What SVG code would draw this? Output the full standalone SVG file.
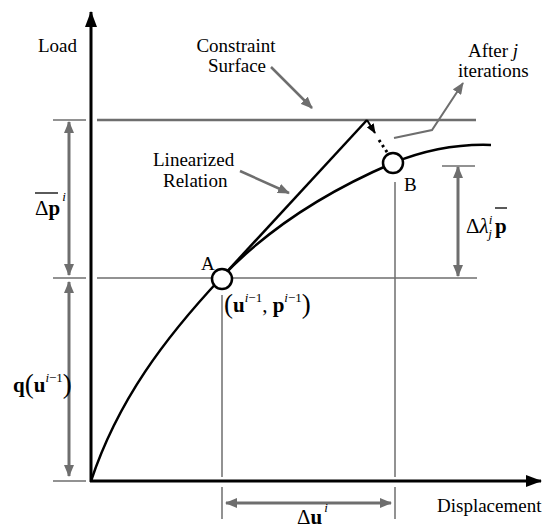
<svg xmlns="http://www.w3.org/2000/svg" width="549" height="529" viewBox="0 0 549 529">
<defs>
<marker id="ga" viewBox="0 0 12 10" refX="11" refY="5" markerWidth="12" markerHeight="10" markerUnits="userSpaceOnUse" orient="auto-start-reverse"><path d="M0,0 L12,5 L0,10 Z" fill="#6e6e6e"/></marker>
<marker id="ba" viewBox="0 0 16 12" refX="15" refY="6" markerWidth="16" markerHeight="12" markerUnits="userSpaceOnUse" orient="auto"><path d="M0,0 L16,6 L0,12 Z" fill="#000"/></marker>
<marker id="bs" viewBox="0 0 10 8" refX="9" refY="4" markerWidth="10" markerHeight="8" markerUnits="userSpaceOnUse" orient="auto"><path d="M0,0 L10,4 L0,8 Z" fill="#000"/></marker>
</defs>
<style>
text{font-family:"Liberation Serif","DejaVu Serif","Times New Roman",serif;fill:#000}
.t{font-size:19px}
.m{font-size:21px}
.b{font-weight:bold}
.i{font-style:italic}
.sup{font-size:13px}
.g{stroke:#6e6e6e;fill:none}
.dim{stroke:#6e6e6e;stroke-width:3;fill:none}
</style>
<rect width="549" height="529" fill="#fff"/>
<g id="connectors">
<line class="g" x1="97" y1="120" x2="476" y2="120" stroke-width="2.5"/>
<line class="g" x1="53" y1="120" x2="86" y2="120" stroke-width="1.5"/>
<line class="g" x1="97" y1="278" x2="477" y2="278" stroke-width="1.5"/>
<line class="g" x1="53" y1="278" x2="86" y2="278" stroke-width="1.5"/>
<line class="g" x1="53" y1="481" x2="86" y2="481" stroke-width="1.5"/>
<line class="g" x1="442" y1="166" x2="475" y2="166" stroke-width="1.5"/>
<line class="g" x1="222" y1="295" x2="222" y2="477" stroke-width="1.5"/>
<line class="g" x1="222" y1="487" x2="222" y2="519" stroke-width="1.5"/>
<line class="g" x1="395" y1="182" x2="395" y2="477" stroke-width="1.5"/>
<line class="g" x1="395" y1="487" x2="395" y2="519" stroke-width="1.5"/>
<line class="dim" x1="69" y1="122" x2="69" y2="275" marker-start="url(#ga)" marker-end="url(#ga)"/>
<line class="dim" x1="69" y1="282" x2="69" y2="476" marker-start="url(#ga)" marker-end="url(#ga)"/>
<line class="dim" x1="458" y1="167" x2="458" y2="276" marker-start="url(#ga)" marker-end="url(#ga)"/>
<line class="dim" x1="226" y1="503" x2="391" y2="503" marker-start="url(#ga)" marker-end="url(#ga)"/>
<line class="g" x1="271" y1="67" x2="312" y2="108" stroke-width="2.5" marker-end="url(#ga)"/>
<line class="g" x1="240" y1="171" x2="289" y2="193" stroke-width="2.5" marker-end="url(#ga)"/>
<polyline class="g" points="394,138 432,130 463,83" stroke-width="2" marker-end="url(#ga)"/>
<line x1="91" y1="482" x2="91" y2="12" stroke="#000" stroke-width="3" marker-end="url(#ba)"/>
<line x1="90" y1="481" x2="541" y2="481" stroke="#000" stroke-width="3" marker-end="url(#ba)"/>
<path d="M91,481 C118,400 165,338 221,278 C270,226 330,190 393,163 C430,148 462,144 491,145" fill="none" stroke="#000" stroke-width="2.5"/>
<line x1="221" y1="278" x2="367" y2="120" stroke="#000" stroke-width="2.5"/>
<line x1="367" y1="120" x2="375" y2="133" stroke="#000" stroke-width="2" marker-end="url(#bs)"/>
<line x1="379" y1="140" x2="391" y2="158" stroke="#000" stroke-width="3" stroke-dasharray="2.5 3.5"/>
</g>
<g id="nodeA">
<circle cx="222" cy="279" r="10" fill="#fff" stroke="#000" stroke-width="2.5"/>
<text class="t" x="201" y="270">A</text>
</g>
<g id="nodeB">
<circle cx="393" cy="163" r="10" fill="#fff" stroke="#000" stroke-width="2.5"/>
<text class="t" x="404" y="191">B</text>
</g>
<g id="labels">
<text class="t" x="38" y="52">Load</text>
<text class="t" x="236" y="52" text-anchor="middle">Constraint</text>
<text class="t" x="237" y="72" text-anchor="middle">Surface</text>
<text class="t" x="468" y="57">After <tspan class="i">j</tspan></text>
<text class="t" x="458" y="77">iterations</text>
<text class="t" x="153" y="166">Linearized</text>
<text class="t" x="163" y="187">Relation</text>
<text class="t" x="437" y="512">Displacement</text>
<text class="m" x="35" y="215">Δ<tspan class="b">p</tspan><tspan class="i sup" dx="2" dy="-14">i</tspan></text>
<line x1="35" y1="193" x2="58" y2="193" stroke="#000" stroke-width="1.3"/>
<text class="m" x="13" y="392"><tspan class="b">q</tspan><tspan font-size="27" dy="1">(</tspan><tspan class="b" dy="-1">u</tspan><tspan class="sup" dy="-10"><tspan class="i">i</tspan>−1</tspan><tspan font-size="27" dy="11">)</tspan></text>
<text class="m" x="224" y="312"><tspan font-size="27" dy="1">(</tspan><tspan class="b" dy="-1">u</tspan><tspan class="sup" dy="-10"><tspan class="i">i</tspan>−1</tspan><tspan dy="10">, </tspan><tspan class="b">p</tspan><tspan class="sup" dy="-10"><tspan class="i">i</tspan>−1</tspan><tspan font-size="27" dy="11">)</tspan></text>
<text class="m" x="466" y="233">Δ<tspan class="i">λ</tspan><tspan class="i sup" dy="-9">i</tspan><tspan class="i sup" dx="-4" dy="14">j</tspan><tspan class="b" dx="3" dy="-5">p</tspan></text>
<line x1="495" y1="208" x2="507" y2="208" stroke="#000" stroke-width="1.3"/>
<text class="m" x="297" y="524">Δ<tspan class="b">u</tspan><tspan class="i sup" dx="2" dy="-12">i</tspan></text>
</g>
</svg>
